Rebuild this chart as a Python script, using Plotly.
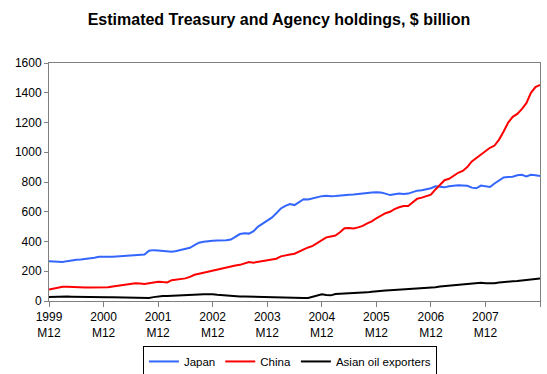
import plotly.graph_objects as go

# Monthly observations from 1999 M12 to 2008 M12
months = []
y, mth = 1999, 12
for _ in range(109):
    months.append(f"{y}M{mth:02d}")
    mth += 1
    if mth > 12:
        mth = 1
        y += 1

japan = [268, 266, 264, 262, 268, 275, 278, 279, 282, 286, 291, 298, 300, 298, 298, 300,
         303, 306, 307, 306, 308, 312, 338, 342, 340, 336, 332, 331, 336, 344, 347, 358,
         375, 392, 398, 404, 405, 406, 405, 408, 413, 432, 450, 455, 453, 470, 500, 520,
         540, 560, 590, 622, 640, 652, 645, 665, 684, 682, 690, 698, 705, 708, 704, 706,
         710, 712, 715, 716, 720, 725, 728, 730, 731, 730, 722, 712, 718, 722, 720, 722,
         732, 742, 745, 750, 758, 771, 768, 764, 772, 776, 778, 777, 775, 762, 758, 776,
         770, 766, 790, 812, 831, 834, 836, 845, 849, 838, 848, 846, 840]

china = [78, 83, 88, 96, 95, 93, 91, 90, 90, 90, 90, 90, 90, 92, 98, 102,
         106, 110, 115, 119, 117, 115, 120, 126, 130, 127, 125, 140, 144, 143, 152, 162,
         176, 183, 190, 197, 203, 210, 218, 228, 235, 238, 243, 250, 262, 258, 264, 270,
         276, 280, 284, 300, 308, 312, 318, 332, 348, 360, 370, 388, 410, 428, 434, 440,
         462, 489, 490, 488, 495, 505, 522, 535, 556, 575, 590, 600, 618, 630, 638, 639,
         665, 688, 695, 706, 715, 750, 778, 812, 822, 840, 862, 874, 900, 938, 962, 988,
         1012, 1030, 1045, 1085, 1140, 1200, 1238, 1258, 1290, 1330, 1400, 1438, 1452]

oil = [27, 29, 30, 30, 30, 29, 28, 27, 27, 26, 25, 25, 25, 25, 25, 25,
       25, 25, 25, 24, 23, 21, 20, 26, 32, 34, 34, 35, 35, 36, 36, 38,
       41, 44, 46, 47, 45, 42, 39, 37, 35, 33, 31, 30, 29, 29, 29, 29,
       28, 28, 28, 24, 21, 20, 20, 20, 20, 21, 30, 40, 45, 40, 38, 47,
       48, 49, 50, 52, 53, 55, 58, 62, 66, 68, 70, 72, 74, 75, 77, 79,
       80, 82, 83, 85, 88, 93, 97, 100, 103, 106, 108, 110, 113, 116, 119, 123,
       120, 117, 119, 124, 128, 131, 132, 134, 138, 142, 145, 149, 152]

tick_vals = ["1999M12", "2000M12", "2001M12", "2002M12", "2003M12",
             "2004M12", "2005M12", "2006M12", "2007M12", "2008M12"]
tick_text = ["1999<br>M12", "2000<br>M12", "2001<br>M12", "2002<br>M12", "2003<br>M12",
             "2004<br>M12", "2005<br>M12", "2006<br>M12", "2007<br>M12", ""]

series = [("Japan", japan, "#3366FF"), ("China", china, "#FF0000"),
          ("Asian oil exporters", oil, "#000000")]

fig = go.Figure()
for name, vals, col in series:
    fig.add_trace(go.Scatter(x=months, y=vals, mode="lines", name=name,
                             line=dict(color=col, width=2)))

font_family = "Arial, Liberation Sans, sans-serif"
fig.update_layout(
    width=547, height=374,
    margin=dict(l=49, r=7, t=63, b=73, autoexpand=False),
    paper_bgcolor="white", plot_bgcolor="white",
    font=dict(family=font_family, size=12, color="black"),
    title=dict(text="<b>Estimated Treasury and Agency holdings, $ billion</b>",
               x=0.51, xanchor="center", y=0.948, yanchor="middle",
               font=dict(size=16, color="black", family=font_family)),
    showlegend=True,
    legend=dict(orientation="h", xref="container", x=0.53, xanchor="center",
                yref="container", y=0.075, yanchor="top",
                bordercolor="black", borderwidth=1, font=dict(size=11.5),
                itemwidth=30, tracegroupgap=0),
)
fig.update_xaxes(type="category", categoryorder="array", categoryarray=months,
                 range=[0, 108], tickmode="array", tickvals=tick_vals, ticktext=tick_text,
                 showgrid=False, zeroline=False, showline=True, linecolor="#808080",
                 linewidth=1, mirror=True, ticks="outside", ticklen=5, tickcolor="#808080",
                 tickangle=0, tickfont=dict(size=12), automargin=False)
fig.update_yaxes(range=[0, 1600], dtick=200, showgrid=False, zeroline=False,
                 showline=True, linecolor="#808080", linewidth=1, mirror=True,
                 ticks="outside", ticklen=4, tickcolor="#808080", tickfont=dict(size=12),
                 automargin=False)

fig.write_html("out.html", config={"displayModeBar": False},
               post_script="document.body.style.margin='0';document.body.style.padding='0';")
